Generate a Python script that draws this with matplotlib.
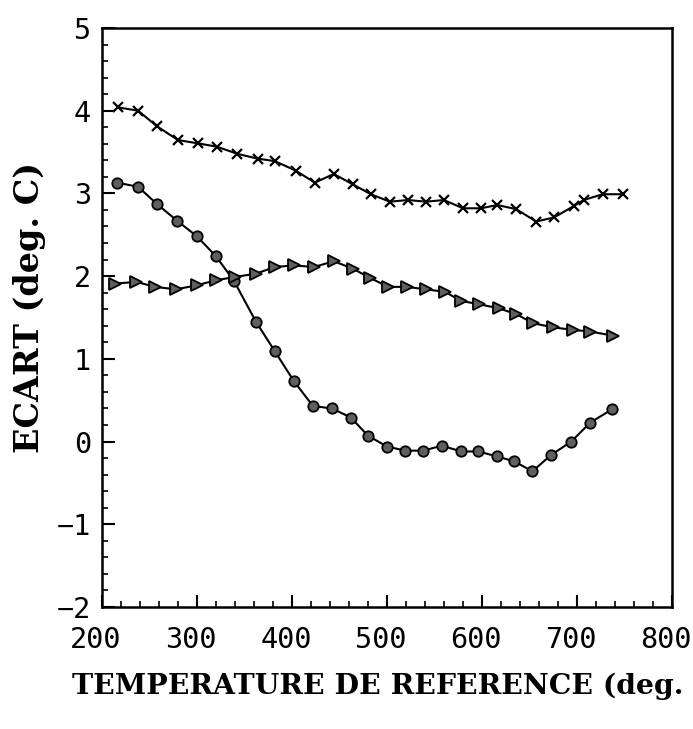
import numpy as np
from matplotlib import pyplot as plt
from matplotlib.ticker import MultipleLocator
from matplotlib.transforms import ScaledTranslation

# courbe "x" (croix)
temp_croix = [217, 238, 258, 280, 301, 321, 342, 364, 382, 404, 424, 444, 464, 483,
              503, 522, 541, 560, 580, 599, 616, 636, 657, 676, 697, 707, 727, 748]
ecart_croix = [4.04, 4.00, 3.81, 3.645, 3.605, 3.565, 3.48, 3.42, 3.39, 3.275, 3.13, 3.235,
               3.11, 2.99, 2.90, 2.92, 2.90, 2.92, 2.82, 2.82, 2.86, 2.81, 2.66, 2.71,
               2.85, 2.92, 2.99, 2.99]

# courbe cercles
temp_cercle = [216, 238, 258, 279, 300, 320, 339, 362, 382, 402, 422, 442, 462, 480,
               500, 519, 538, 558, 578, 596, 616, 634, 653, 673, 694, 714, 737]
ecart_cercle = [3.13, 3.08, 2.87, 2.67, 2.48, 2.24, 1.94, 1.45, 1.09, 0.73, 0.43, 0.40,
                0.29, 0.07, -0.06, -0.11, -0.11, -0.05, -0.12, -0.12, -0.18, -0.24,
                -0.36, -0.16, 0.0, 0.23, 0.39]

# courbe triangles
temp_tri = [214, 236, 256, 278, 300, 320, 340, 362, 382, 402, 423, 444, 464, 482,
            501, 521, 541, 561, 578, 597, 618, 636, 654, 675, 696, 714, 738]
ecart_tri = [1.91, 1.93, 1.87, 1.84, 1.89, 1.95, 1.99, 2.03, 2.11, 2.13, 2.11, 2.18,
             2.09, 1.98, 1.87, 1.87, 1.84, 1.81, 1.70, 1.66, 1.61, 1.54, 1.43, 1.38,
             1.35, 1.33, 1.28]

x_ticks = [200, 300, 400, 500, 600, 700, 800]
y_ticks = [-2, -1, 0, 1, 2, 3, 4, 5]

fig = plt.figure(figsize=(6.93, 7.29), dpi=100)
ax = fig.add_axes([0.1472, 0.1674, 0.8225, 0.7942])

gris = '#5f5f5f'
ax.plot(temp_croix, ecart_croix, color='black', lw=1.5, marker='x', ms=7.5, mew=1.6)
ax.plot(temp_cercle, ecart_cercle, color='black', lw=1.5, marker='o', ms=7.5,
        mfc=gris, mec='black', mew=1.3)
ax.plot(temp_tri, ecart_tri, color='black', lw=1.5, marker='>', ms=8.5,
        mfc=gris, mec='black', mew=1.3)

ax.set_xlim(200, 800)
ax.set_ylim(-2, 5)
ax.set_xticks(x_ticks)
ax.set_yticks(y_ticks)
ax.set_yticklabels([str(v).replace('-', '\u2212') for v in y_ticks])
ax.xaxis.set_minor_locator(MultipleLocator(20))
ax.yaxis.set_minor_locator(MultipleLocator(0.2))

ax.tick_params(which='major', direction='in', length=9, width=1.5,
               top=False, right=False)
ax.tick_params(which='minor', direction='in', length=4, width=1.2,
               top=False, right=False)
ax.tick_params(axis='x', which='major', pad=14)
ax.tick_params(axis='y', which='major', pad=8)
decal = ScaledTranslation(-6 / 100, 0, fig.dpi_scale_trans)
for lab in ax.get_xticklabels():
    lab.set_transform(lab.get_transform() + decal)
for lab in ax.get_xticklabels() + ax.get_yticklabels():
    lab.set_family('DejaVu Sans Mono')
    lab.set_fontsize(20.5)
for s in ax.spines.values():
    s.set_linewidth(1.8)

fig.text(30 / 693, 1 - 307 / 729, 'ECART (deg. C)', rotation=90, ha='center',
         va='center', family='DejaVu Serif', weight='bold', fontsize=24)
# titre de l'axe x, tel qu'il tient dans la largeur de la figure
fig.text(72 / 693, 1 - 686 / 729, 'TEMPERATURE DE REFERENCE (deg.', ha='left',
         va='center', family='DejaVu Serif', weight='bold', fontsize=20.4)

plt.savefig('out.png', dpi=100)
